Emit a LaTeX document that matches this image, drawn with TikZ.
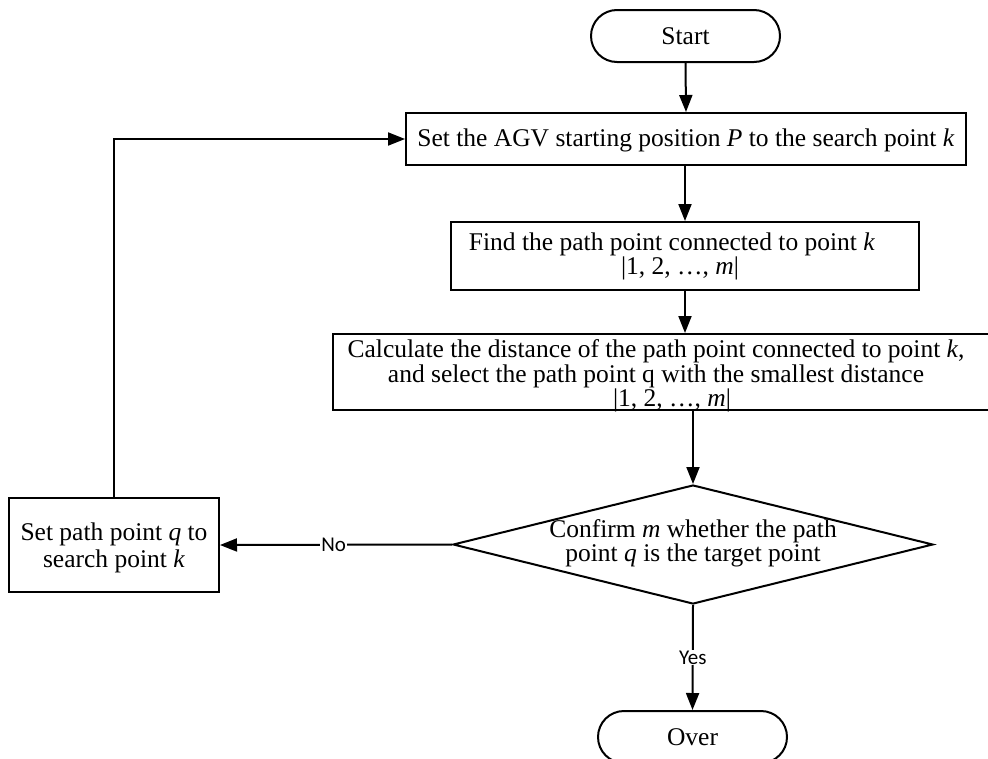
\documentclass[tikz,border=0pt]{standalone}
\usepackage{fontspec}
\setmainfont{Liberation Serif}
\newfontfamily\labfont{Carlito}
\usetikzlibrary{arrows.meta,shapes.geometric}
\begin{document}
\begin{tikzpicture}[x=1pt,y=1pt,
  line width=2pt,
  every node/.style={font=\fontsize{25.5}{25}\selectfont},
  term/.style={draw, rounded corners=26pt, minimum width=189pt, minimum height=52pt, inner sep=0pt},
  proc/.style={draw, rectangle, inner sep=0pt, align=center},
  arr/.style={-{Triangle[length=17pt,width=13pt]}},
  lab/.style={fill=white, inner sep=1pt, font=\labfont\fontsize{21}{22}\selectfont}]
\useasboundingbox (0,0) rectangle (988,-758);
\node[term] (start) at (685.5,-36) {Start};
\node[proc, minimum width=560pt, minimum height=52pt] (b1) at (686,-139) {};
\node at (686,-140) {Set the AGV starting position \textit{P} to the search point \textit{k}};
\node[proc, minimum width=468pt, minimum height=68pt] (b2) at (685,-256) {};
\node[align=center, font=\fontsize{25.5}{19}\selectfont] at (672,-256) {Find the path point connected to point \textit{k}\\\hspace*{16pt}|1, 2, …, \textit{m}|};
\node[proc, minimum width=720pt, minimum height=76pt] (b3) at (693,-372) {};
\node[align=center, font=\fontsize{25.5}{24.5}\selectfont] at (656,-376) {Calculate the distance of the path point connected to point \textit{k},\\and select the path point q with the smallest distance\\\hspace*{32pt}|1, 2, …, \textit{m}|};
\node[draw, diamond, minimum width=480pt, minimum height=119pt, inner sep=0pt] (d) at (693,-544.5) {};
\node[align=center, font=\fontsize{25.5}{21}\selectfont] at (693,-543) {Confirm \textit{m} whether the path\\point \textit{q} is the target point};
\node[proc, minimum width=210pt, minimum height=94pt] (b4) at (114,-545) {};
\node[align=center, font=\fontsize{25.5}{27}\selectfont] at (114,-548) {Set path point \textit{q} to\\search point \textit{k}};
\node[term] (over) at (692.5,-737) {Over};
\draw[arr] (start.south) -- (b1.north);
\draw[arr] (b1.south -| b2.north) -- (b2.north);
\draw[arr] (b2.south) -- (b2.south |- b3.north);
\draw[arr] (d.north |- b3.south) -- (d.north);
\draw[arr] (d.south) -- node[lab, pos=0.5]{Yes} (over.north);
\draw[arr] (d.west) -- node[lab, pos=0.51]{No} (b4.east);
\draw[arr] (b4.north) |- (b1.west);
\end{tikzpicture}
\end{document}
